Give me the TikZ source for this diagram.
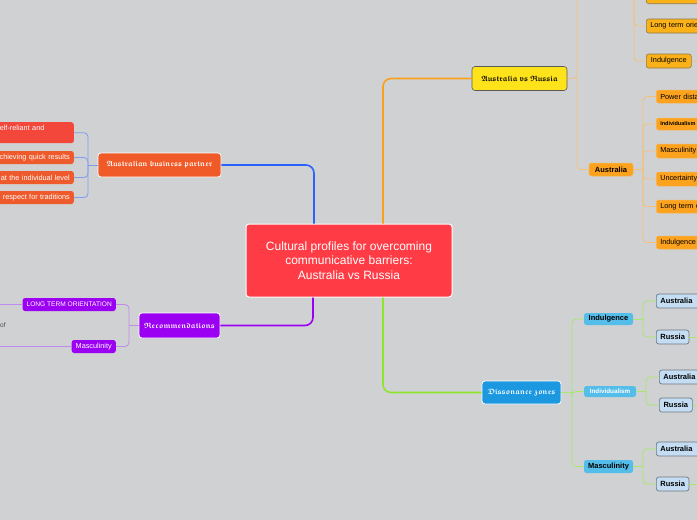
\documentclass[tikz,border=0pt]{standalone}
\usepackage{amsmath,amssymb}
\usepackage{fontspec}
\setmainfont{Liberation Sans}
\usetikzlibrary{positioning,calc}
\DeclareFontFamily{U}{euf}{}
\DeclareFontShape{U}{euf}{m}{n}{<-> eufm10}{}
\DeclareFontShape{U}{euf}{b}{n}{<-> eufb10}{}
\definecolor{bgc}{HTML}{D0D1D3}
\definecolor{coreRed}{HTML}{FF3B45}
\definecolor{bizOrange}{HTML}{F05A28}
\definecolor{selfRed}{HTML}{F2473A}
\definecolor{leafOrange}{HTML}{EF5A2C}
\definecolor{bizBlue}{HTML}{2962FF}
\definecolor{bizTwig}{HTML}{7F9CF0}
\definecolor{recPurple}{HTML}{9B00F2}
\definecolor{recTwig}{HTML}{C08CEC}
\definecolor{avrYellow}{HTML}{FFE31A}
\definecolor{avrEdge}{HTML}{5A5A5A}
\definecolor{avrLine}{HTML}{F9A11B}
\definecolor{avrTwig}{HTML}{F5C07A}
\definecolor{rusFill}{HTML}{FBB118}
\definecolor{rusEdge}{HTML}{8C7A4A}
\definecolor{ausFill}{HTML}{FCA21C}
\definecolor{ausEdge}{HTML}{F7B656}
\definecolor{dzBlue}{HTML}{1B98E0}
\definecolor{dzLine}{HTML}{8EE62B}
\definecolor{dzTwig}{HTML}{A6E86A}
\definecolor{zoneFill}{HTML}{55BDEA}
\definecolor{pairFill}{HTML}{C4DDF3}
\definecolor{pairEdge}{HTML}{6E7880}
\newcommand{\gothic}[1]{\ensuremath{\boldsymbol{\mathfrak{#1}}}}

\begin{document}
\begin{tikzpicture}[x=1pt,y=-1pt,
  corebox/.style={draw=white, line width=1pt, rounded corners=3pt, fill=coreRed,
                  text=white, align=center, minimum width=206, minimum height=73,
                  font=\fontsize{12}{14.5}\selectfont},
  mainbox/.style={draw=white, line width=0.8pt, rounded corners=3pt, text=white,
                  minimum height=24, inner sep=0pt, font=\fontsize{7.7}{9}\selectfont},
  leafbox/.style={rounded corners=2.5pt, inner sep=0pt, inner xsep=4pt, minimum height=13,
                  font=\fontsize{7.3}{9}\selectfont},
  pairbox/.style={leafbox, fill=pairFill, draw=pairEdge, line width=0.7pt, minimum height=14,
                  anchor=west, font=\fontsize{7.5}{9}\selectfont\bfseries},
  trunk/.style={line width=1.6pt, rounded corners=8pt},
  twig/.style={line width=0.8pt, rounded corners=4pt}]
\useasboundingbox (0,0) rectangle (697,520);
\clip (0,0) rectangle (697,520);
\fill[bgc] (0,0) rectangle (697,520);
% central topic
\node (core) [corebox] at (349,260.5) {Cultural profiles for overcoming\\communicative barriers:\\Australia vs Russia};
% main branches
\node (bizp) [mainbox, fill=bizOrange, minimum width=123] at (159.5,165) {\gothic{Australian\ business\ partner}};
\node (recs) [mainbox, fill=recPurple, minimum width=81, minimum height=25] at (179.5,325.5) {\gothic{Recommendations}};
\node (avr) [mainbox, fill=avrYellow, draw=avrEdge, line width=0.6pt, text=black, minimum width=95] at (519.5,78.5) {\gothic{Australia\ vs\ Russia}};
\node (dz) [mainbox, fill=dzBlue, minimum width=79, minimum height=23] at (521.5,392.5) {\gothic{Dissonance\ zones}};
\draw[trunk, draw=bizBlue] ([xshift=-35]core.north) |- (bizp.east);
\draw[trunk, draw=avrLine] ([xshift=34]core.north) |- (avr.west);
\draw[trunk, draw=recPurple] ([xshift=-36]core.south) |- (recs.east);
\draw[trunk, draw=dzLine] ([xshift=34]core.south) |- (dz.west);
% Australian business partner
\node (self) [leafbox, fill=selfRed, text=white, anchor=north east, text width=70, align=left, minimum height=21] at (74,122) {elf-reliant and\\\mbox{}};
\node (quick) [leafbox, fill=leafOrange, text=white, anchor=east, text width=80, align=right] at (74,157.5) {chieving quick results};
\node (indiv) [leafbox, fill=leafOrange, text=white, anchor=east, text width=80, align=right] at (74,177.5) {at the individual level};
\node (trad) [leafbox, fill=leafOrange, text=white, anchor=east, text width=80, align=right] at (74,197.5) {respect for traditions};
\coordinate (bizj) at (88,165);
\draw[twig, draw=bizTwig] (bizp.west) -- (bizj);
\foreach \leaf in {self,quick,indiv,trad}
  \draw[twig, draw=bizTwig] (bizj) |- (\leaf.east);
% Recommendations
\node (lto) [leafbox, fill=recPurple, text=white, anchor=east, font=\fontsize{6.6}{8}\selectfont] at (116,304.5) {LONG TERM ORIENTATION};
\node (rmasc) [leafbox, fill=recPurple, text=white, anchor=east] at (116,346.5) {Masculinity};
\node (ofnote) [font=\fontsize{6.5}{8}\selectfont, text=black!70, anchor=west, inner sep=0pt] at (0,325) {of};
\coordinate (recj) at (129,325.5);
\coordinate (ltoout) at (-5,304.5);
\coordinate (rmascout) at (-5,346.5);
\draw[twig, draw=recTwig] (recs.west) -- (recj);
\foreach \leaf in {lto,rmasc}
  \draw[twig, draw=recTwig] (recj) |- (\leaf.east);
\draw[twig, draw=recTwig] (lto.west) -- (ltoout);
\draw[twig, draw=recTwig] (rmasc.west) -- (rmascout);
% Australia vs Russia
\node (aus) [leafbox, fill=ausFill, draw=ausEdge, line width=0.5pt, minimum width=44, font=\fontsize{7.5}{9}\selectfont\bfseries] at (611,169.5) {Australia};
\coordinate (avrj) at (577,78.5);
\coordinate (rusup) at (577,-5);
\draw[twig, draw=avrTwig] (avr.east) -- (avrj) -- (rusup);
\draw[twig, draw=avrTwig] (avrj) |- (aus.west);
% Russia branch, its head lies above the picture
\coordinate (rusj) at (634,-8);
\node (rtop) [leafbox, fill=rusFill, draw=rusEdge, line width=0.6pt, anchor=south west, minimum width=60, minimum height=14] at (646,4) {};
\node (rlto) [leafbox, fill=rusFill, draw=rusEdge, line width=0.6pt, anchor=west, text width=52, align=left, minimum height=14] at (646,26) {Long term orie};
\node (rind) [leafbox, fill=rusFill, draw=rusEdge, line width=0.6pt, anchor=west, minimum width=45, minimum height=14] at (646,61) {Indulgence};
\coordinate (rindout) at (705,61);
\foreach \leaf in {rtop,rlto,rind}
  \draw[twig, draw=avrTwig] (rusj) |- (\leaf.west);
\draw[twig, draw=avrTwig] (rind.east) -- (rindout);
% Australia branch
\coordinate (ausj) at (643,169.5);
\node (apd) [leafbox, fill=ausFill, draw=ausEdge, line width=0.5pt, anchor=west, text width=50, align=left] at (656,96.5) {Power dista};
\node (aind) [leafbox, fill=ausFill, draw=ausEdge, line width=0.5pt, anchor=west, text width=50, align=left, minimum height=12, font=\fontsize{5.5}{7}\selectfont\bfseries] at (656,124) {Individualism};
\node (amas) [leafbox, fill=ausFill, draw=ausEdge, line width=0.5pt, anchor=west, text width=50, align=left, minimum height=14] at (656,151) {Masculinity};
\node (aunc) [leafbox, fill=ausFill, draw=ausEdge, line width=0.5pt, anchor=west, text width=50, align=left, minimum height=14] at (656,179) {Uncertainty};
\node (alto) [leafbox, fill=ausFill, draw=ausEdge, line width=0.5pt, anchor=west, text width=50, align=left] at (656,206.5) {Long term o};
\node (aindu) [leafbox, fill=ausFill, draw=ausEdge, line width=0.5pt, anchor=west, text width=50, align=left] at (656,242.5) {Indulgence};
\draw[twig, draw=avrTwig] (aus.east) -- (ausj);
\foreach \leaf in {apd,aind,amas,aunc,alto,aindu}
  \draw[twig, draw=avrTwig] (ausj) |- (\leaf.west);
% Dissonance zones
\node (dind) [leafbox, fill=zoneFill, minimum width=49, minimum height=12, font=\fontsize{7.5}{9}\selectfont\bfseries] at (608.5,319) {Indulgence};
\node (dindv) [leafbox, fill=zoneFill, text=white, minimum width=52, minimum height=11, font=\fontsize{6.3}{8}\selectfont\bfseries] at (610,391.5) {Individualism};
\node (dmas) [leafbox, fill=zoneFill, minimum width=49, minimum height=13, font=\fontsize{7.5}{9}\selectfont\bfseries] at (608.5,466.5) {Masculinity};
\coordinate (dzj) at (572,392.5);
\draw[twig, draw=dzTwig] (dz.east) -- (dzj);
\foreach \leaf in {dind,dindv,dmas}
  \draw[twig, draw=dzTwig] (dzj) |- (\leaf.west);
\node (dindA) [pairbox, text width=48, align=left] at (656,301) {Australia};
\node (dindR) [pairbox, minimum width=32] at (656,337) {Russia};
\node (dindvA) [pairbox, text width=48, align=left] at (659,377) {Australia};
\node (dindvR) [pairbox, minimum width=33] at (659,405) {Russia};
\node (dmasA) [pairbox, text width=48, align=left] at (656,449) {Australia};
\node (dmasR) [pairbox, minimum width=32] at (656,484) {Russia};
\coordinate (dindj) at (643,319);
\coordinate (dindvj) at (646,391.5);
\coordinate (dmasj) at (643,466.5);
\coordinate (dindRout) at (705,337);
\coordinate (dindvRout) at (705,405);
\coordinate (dmasRout) at (705,484);
\draw[twig, draw=dzTwig] (dind.east) -- (dindj);
\draw[twig, draw=dzTwig] (dindv.east) -- (dindvj);
\draw[twig, draw=dzTwig] (dmas.east) -- (dmasj);
\foreach \junc/\pair in {dindj/dindA,dindj/dindR,dindvj/dindvA,dindvj/dindvR,dmasj/dmasA,dmasj/dmasR}
  \draw[twig, draw=dzTwig] (\junc) |- (\pair.west);
\foreach \pair in {dindR,dindvR,dmasR}
  \draw[twig, draw=dzTwig] (\pair.east) -- (\pair out);
\end{tikzpicture}
\end{document}
